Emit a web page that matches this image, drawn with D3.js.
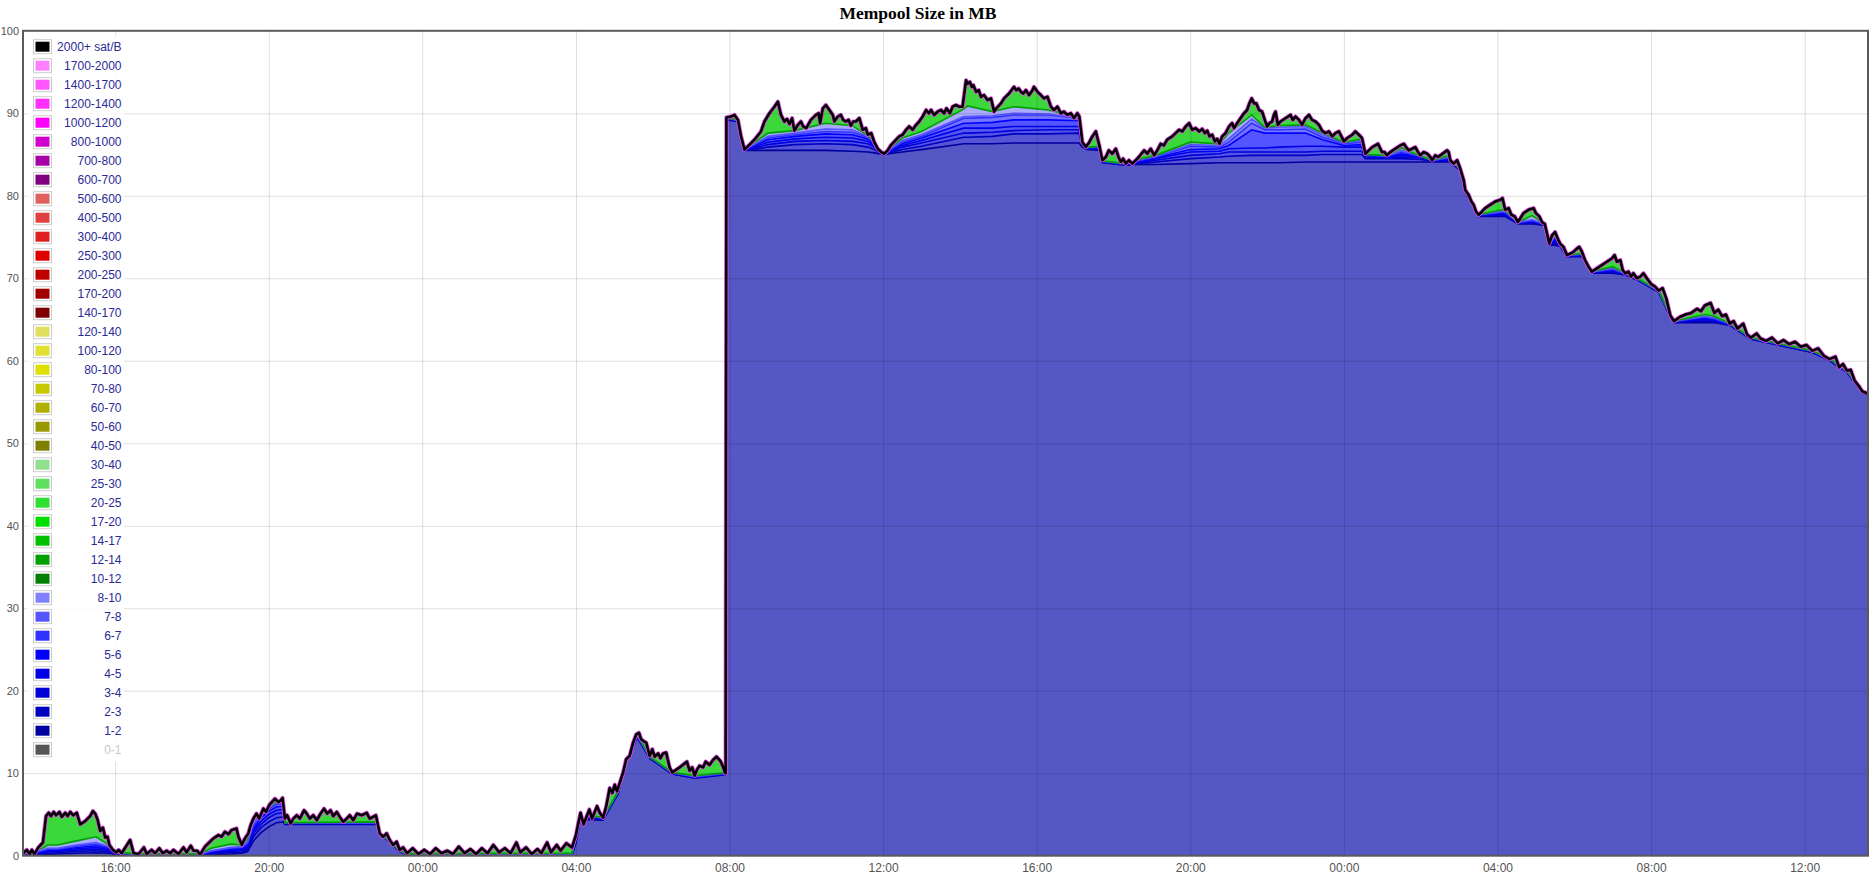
<!DOCTYPE html>
<meta charset="utf-8">
<script src="https://d3js.org/d3.v7.min.js"></script>
<style>
    body { margin: 0; background: #fff; }
    .axis text { font-family: "Liberation Sans", Arial, sans-serif; font-size: 12px; fill: #545454; }
    .axis.y text { font-size: 11px; }
    .legend text { font-family: "Liberation Sans", Arial, sans-serif; font-size: 12px; }
</style>
<div id="chart"></div>
<script>
// fee bands as in the legend, highest first
const feeLabels = ["2000+ sat/B", "1700-2000", "1400-1700", "1200-1400", "1000-1200", "800-1000", "700-800",
    "600-700", "500-600", "400-500", "300-400", "250-300", "200-250", "170-200", "140-170", "120-140", "100-120",
    "80-100", "70-80", "60-70", "50-60", "40-50", "30-40", "25-30", "20-25", "17-20", "14-17", "12-14", "10-12",
    "8-10", "7-8", "6-7", "5-6", "4-5", "3-4", "2-3", "1-2", "0-1"];
const feeColors = ["#000000", "#ff80ff", "#ff55ff", "#ff30ff", "#ff00ff", "#d000d0", "#a800a8",
    "#800080", "#e06060", "#e04040", "#e02020", "#e00000", "#c00000", "#a00000", "#800000", "#e0e060", "#e0e030",
    "#e0e000", "#c8c800", "#b0b000", "#989800", "#808000", "#90e090", "#60e060", "#30e030", "#00e000", "#00c000", "#00a000", "#008000",
    "#8080ff", "#5555ff", "#3030ff", "#0000ff", "#0000e8", "#0000d8", "#0000c0", "#0000a0", "#555555"];
const hiddenLabels = ["0-1"];

const yTicks = [0, 10, 20, 30, 40, 50, 60, 70, 80, 90, 100];

// hours counted from 00:00 of the first day
const startHour = 13.6, endHour = 61.65;

// whole mempool (top of the stack), [hour, MB]
const totalMB = [
    [13.6,0.3],[13.7,0.7],[13.77,0.2],[13.83,0.7],[13.9,0.2],[14.0,1.0],[14.12,1.6],[14.2,4.8],[14.27,5.2],[14.33,4.8],
    [14.4,5.3],[14.46,4.9],[14.55,5.3],[14.61,4.7],[14.7,5.2],[14.76,4.8],[14.83,5.3],[14.91,4.9],[15.0,5.2],[15.09,3.8],
    [15.22,4.2],[15.35,4.8],[15.42,5.4],[15.48,5.1],[15.54,4.4],[15.61,3.0],[15.68,3.4],[15.74,2.2],[15.8,2.3],[15.85,1.3],
    [15.94,0.7],[16.03,0.4],[16.09,0.7],[16.17,0.3],[16.39,1.9],[16.48,0.3],[16.61,0.2],[16.75,1.0],[16.82,0.2],[16.95,0.7],
    [17.04,0.3],[17.15,0.9],[17.24,0.3],[17.34,0.6],[17.43,0.3],[17.52,0.7],[17.65,0.2],[17.78,1.0],[17.86,0.4],[17.97,1.2],
    [18.04,0.6],[18.14,0.6],[18.21,0.1],[18.34,1.1],[18.56,2.1],[18.69,2.5],[18.77,2.3],[18.86,2.9],[18.95,2.6],[19.03,3.1],
    [19.16,3.3],[19.21,2.3],[19.3,1.3],[19.38,2.1],[19.47,2.7],[19.53,3.7],[19.6,4.5],[19.68,5.1],[19.75,4.5],[19.86,5.7],
    [19.93,5.3],[20.01,6.1],[20.08,6.5],[20.16,6.9],[20.25,6.5],[20.31,6.7],[20.36,7.0],[20.42,4.5],[20.48,4.9],[20.57,3.9],
    [20.64,4.5],[20.73,4.9],[20.81,4.5],[20.92,5.5],[20.99,5.1],[21.07,4.5],[21.16,4.9],[21.25,4.3],[21.35,5.1],[21.44,5.7],
    [21.52,5.1],[21.61,5.5],[21.68,4.8],[21.77,5.3],[21.85,4.7],[21.94,4.1],[22.03,4.5],[22.11,4.9],[22.2,4.3],[22.3,5.1],
    [22.42,4.9],[22.55,5.2],[22.63,4.5],[22.79,4.9],[22.89,2.7],[22.98,2.3],[23.07,2.7],[23.15,1.9],[23.24,1.3],[23.33,1.7],
    [23.41,0.7],[23.5,1.0],[23.6,0.3],[23.75,0.9],[23.9,0.2],[24.05,0.7],[24.2,0.2],[24.35,0.9],[24.5,0.3],[24.65,0.6],
    [24.8,0.2],[24.95,1.1],[25.1,0.3],[25.25,0.8],[25.4,0.2],[25.55,0.9],[25.7,0.3],[25.85,1.3],[26.0,0.4],[26.15,0.9],
    [26.3,0.3],[26.45,1.6],[26.55,0.4],[26.7,1.0],[26.85,0.2],[27.0,0.8],[27.1,0.3],[27.25,1.6],[27.35,0.4],[27.5,1.3],
    [27.6,0.6],[27.75,1.5],[27.9,1.0],[28.0,2.5],[28.12,5.2],[28.2,3.8],[28.35,5.6],[28.42,4.5],[28.55,6.0],[28.62,5.2],
    [28.71,4.6],[28.79,6.0],[28.88,8.2],[28.95,7.6],[29.01,8.6],[29.07,7.8],[29.14,8.8],[29.23,10.1],[29.31,11.7],[29.4,12.1],
    [29.49,13.7],[29.57,14.7],[29.64,14.9],[29.7,14.1],[29.76,13.9],[29.83,13.7],[29.92,12.1],[29.99,12.9],[30.05,12.0],[30.14,12.4],
    [30.2,11.8],[30.27,12.4],[30.35,12.5],[30.44,10.7],[30.51,10.1],[30.7,10.7],[30.89,11.4],[30.96,10.3],[31.03,10.7],[31.09,9.7],
    [31.15,10.4],[31.22,10.9],[31.31,10.7],[31.38,11.4],[31.48,11.0],[31.57,11.6],[31.66,12.0],[31.76,11.5],[31.83,10.8],[31.88,10.1],
    [31.9,10.0],[31.92,89.5],[32.04,89.6],[32.13,89.8],[32.22,89.2],[32.3,87.2],[32.39,85.6],[32.48,86.0],[32.65,86.8],[32.82,87.8],
    [32.91,89.0],[33.04,90.0],[33.17,90.8],[33.26,91.4],[33.34,89.8],[33.43,89.0],[33.5,89.3],[33.56,88.7],[33.63,89.4],[33.69,87.9],
    [33.78,88.6],[33.86,89.0],[33.92,88.4],[34.0,88.2],[34.12,89.2],[34.25,89.8],[34.32,90.0],[34.36,88.8],[34.43,90.6],[34.51,91.0],
    [34.6,90.4],[34.69,89.8],[34.73,89.0],[34.82,89.6],[34.9,89.8],[34.96,89.2],[35.03,89.0],[35.1,89.2],[35.16,88.5],[35.22,89.0],
    [35.29,89.0],[35.38,89.4],[35.47,88.0],[35.55,88.2],[35.6,87.4],[35.69,87.6],[35.77,86.5],[35.86,85.7],[35.95,85.3],[36.03,85.1],
    [36.12,85.5],[36.2,86.1],[36.34,86.8],[36.42,87.2],[36.51,87.4],[36.6,88.0],[36.68,88.4],[36.77,88.0],[36.86,88.6],[36.94,89.0],
    [37.03,89.6],[37.12,90.4],[37.19,90.0],[37.25,90.4],[37.33,89.8],[37.42,90.2],[37.51,90.4],[37.59,90.0],[37.65,90.6],[37.74,90.0],
    [37.81,90.8],[37.9,91.0],[37.98,90.8],[38.07,90.8],[38.16,94.0],[38.2,93.6],[38.26,93.8],[38.31,93.2],[38.35,93.4],[38.42,92.6],
    [38.49,92.8],[38.55,92.0],[38.63,92.2],[38.72,91.6],[38.81,91.8],[38.89,90.2],[38.95,90.6],[39.07,91.2],[39.15,91.8],[39.28,92.4],
    [39.41,93.2],[39.47,92.8],[39.53,93.0],[39.59,92.6],[39.65,92.4],[39.72,92.8],[39.8,92.2],[39.89,92.8],[39.93,93.2],[40.02,92.6],
    [40.11,92.2],[40.19,91.8],[40.28,92.0],[40.37,90.8],[40.45,90.4],[40.54,90.8],[40.63,90.0],[40.71,90.2],[40.8,89.8],[40.89,90.0],
    [40.97,89.4],[41.06,90.0],[41.11,89.6],[41.19,86.5],[41.28,85.9],[41.37,86.5],[41.45,87.2],[41.54,87.8],[41.63,86.1],[41.71,84.3],
    [41.8,84.7],[41.88,85.5],[41.97,85.1],[42.06,85.7],[42.13,84.7],[42.19,84.1],[42.25,84.5],[42.32,83.9],[42.4,84.3],[42.49,83.9],
    [42.58,84.3],[42.66,84.7],[42.8,85.5],[42.88,85.1],[42.97,85.7],[43.06,84.9],[43.14,85.5],[43.23,86.3],[43.31,86.1],[43.4,86.8],
    [43.53,87.2],[43.62,87.6],[43.71,88.0],[43.79,87.8],[43.88,88.4],[43.97,88.8],[44.05,88.0],[44.14,88.2],[44.23,87.8],[44.31,88.1],
    [44.38,87.6],[44.44,87.9],[44.5,87.2],[44.57,87.4],[44.64,86.6],[44.7,86.9],[44.76,86.3],[44.83,87.2],[44.92,87.6],[45.01,88.4],
    [45.09,88.8],[45.14,88.2],[45.22,88.8],[45.31,89.4],[45.4,90.0],[45.48,90.4],[45.54,91.2],[45.6,91.8],[45.66,91.2],[45.72,91.2],
    [45.79,90.4],[45.87,90.2],[45.94,89.2],[46.0,88.4],[46.06,88.8],[46.13,89.0],[46.18,89.8],[46.22,90.2],[46.28,88.6],[46.35,89.0],
    [46.48,89.4],[46.61,89.8],[46.67,89.2],[46.74,89.6],[46.83,89.2],[46.91,88.6],[47.0,89.4],[47.09,89.8],[47.17,89.2],[47.26,89.0],
    [47.35,88.6],[47.43,87.9],[47.52,87.6],[47.61,87.8],[47.7,87.2],[47.78,87.6],[47.87,87.8],[48.0,86.6],[48.09,87.0],[48.22,87.4],
    [48.3,87.8],[48.39,87.4],[48.47,87.0],[48.56,85.1],[48.65,85.5],[48.74,85.9],[48.82,86.1],[48.89,86.3],[48.95,85.7],[48.99,85.3],
    [49.06,85.3],[49.12,84.9],[49.21,85.3],[49.34,85.7],[49.47,86.1],[49.56,86.3],[49.62,85.9],[49.69,85.5],[49.78,85.7],[49.86,85.9],
    [49.93,85.3],[49.99,84.9],[50.08,85.3],[50.17,85.1],[50.25,84.7],[50.3,84.3],[50.38,84.9],[50.45,84.7],[50.51,84.9],[50.6,85.2],
    [50.69,85.5],[50.73,85.3],[50.77,84.3],[50.86,83.9],[50.95,84.3],[51.03,83.3],[51.12,81.9],[51.16,80.7],[51.25,80.1],[51.32,79.3],
    [51.38,78.9],[51.44,78.1],[51.51,77.7],[51.6,78.1],[51.68,78.5],[51.81,78.9],[51.94,79.3],[52.07,79.5],[52.13,79.7],[52.2,78.3],
    [52.29,78.5],[52.36,77.7],[52.45,77.5],[52.53,76.8],[52.6,77.3],[52.68,77.9],[52.81,78.3],[52.94,78.5],[53.0,77.9],[53.09,77.5],
    [53.16,76.8],[53.23,76.6],[53.29,75.4],[53.35,74.2],[53.42,75.2],[53.5,75.6],[53.57,74.8],[53.63,74.2],[53.72,73.8],[53.81,72.8],
    [53.9,73.0],[53.98,73.2],[54.07,73.6],[54.13,73.8],[54.2,73.2],[54.28,72.2],[54.37,71.4],[54.46,70.8],[54.59,71.2],[54.72,71.6],
    [54.85,72.0],[54.98,72.4],[55.05,72.8],[55.11,72.0],[55.2,72.2],[55.26,71.0],[55.33,70.6],[55.41,70.8],[55.48,70.2],[55.54,70.6],
    [55.63,70.0],[55.72,70.2],[55.8,70.6],[55.89,70.0],[56.0,69.3],[56.1,69.0],[56.2,68.5],[56.3,68.8],[56.4,67.5],[56.5,65.5],
    [56.6,64.8],[56.75,65.3],[56.9,65.6],[57.05,65.8],[57.2,66.3],[57.3,66.0],[57.4,66.7],[57.55,67.0],[57.65,65.8],[57.75,66.2],
    [57.85,65.4],[57.95,65.6],[58.05,64.5],[58.15,64.8],[58.25,63.9],[58.4,64.5],[58.5,63.2],[58.6,62.8],[58.75,63.3],[58.85,62.7],
    [59.0,62.4],[59.15,62.8],[59.3,62.1],[59.45,62.5],[59.6,62.0],[59.75,62.3],[59.9,61.7],[60.05,61.9],[60.2,61.2],[60.35,61.5],
    [60.5,60.6],[60.65,60.2],[60.8,60.5],[60.9,59.2],[61.0,59.6],[61.1,58.8],[61.2,58.9],[61.3,57.6],[61.4,57.0],[61.5,56.3],
    [61.65,56.0]
];

// tops of the lower bands as read off the stack:
// hour, 1-2, 2-3, 3-4, 4-5, 5-6, 6-7, 7-8, 8-10 sat/B (MB, cumulative)
const bandTops = [
    [13.6, 0.05,0.1,0.15,0.2,0.2,0.25,0.25,0.3],
    [14.1, 0.1,0.2,0.3,0.4,0.5,0.6,0.7,0.9],
    [14.25,0.15,0.3,0.45,0.6,0.7,0.8,0.9,1.3],
    [14.5, 0.2,0.35,0.5,0.6,0.7,0.8,0.9,1.3],
    [15.0, 0.3,0.5,0.7,0.85,1.0,1.15,1.3,1.8],
    [15.5, 0.35,0.6,0.8,1.0,1.2,1.4,1.6,2.3],
    [15.85,0.3,0.45,0.6,0.75,0.9,1.0,1.1,1.25],
    [15.94,0.2,0.3,0.4,0.5,0.55,0.6,0.65,0.7],
    [16.1, 0.1,0.15,0.2,0.25,0.3,0.3,0.35,0.4],
    [16.5, 0.05,0.08,0.1,0.12,0.14,0.16,0.18,0.25],
    [18.2, 0.05,0.08,0.1,0.12,0.14,0.16,0.18,0.2],
    [18.5, 0.1,0.2,0.3,0.4,0.5,0.55,0.6,0.9],
    [19.0, 0.2,0.35,0.5,0.65,0.8,0.9,1.0,1.4],
    [19.3, 0.3,0.45,0.6,0.75,0.9,1.0,1.1,1.3],
    [19.45,0.5,0.7,0.9,1.1,1.3,1.5,1.7,2.0],
    [19.6, 1.8,2.3,2.7,3.0,3.3,3.6,3.9,4.2],
    [19.8, 2.8,3.4,3.8,4.2,4.6,4.9,5.2,5.4],
    [20.0, 3.5,4.1,4.6,5.0,5.4,5.7,5.9,6.0],
    [20.2, 4.0,4.6,5.1,5.5,5.9,6.2,6.4,6.5],
    [20.38,4.1,4.7,5.2,5.6,6.0,6.3,6.5,6.6],
    [20.42,3.8,3.85,3.9,3.9,3.95,3.95,4.0,4.0],
    [22.85,3.8,3.85,3.9,3.9,3.95,3.95,4.0,4.1],
    [22.89,2.5,2.55,2.6,2.6,2.6,2.6,2.6,2.6],
    [23.15,1.7,1.75,1.8,1.8,1.8,1.8,1.8,1.8],
    [23.41,0.5,0.55,0.6,0.6,0.6,0.6,0.6,0.6],
    [23.6, 0.1,0.12,0.15,0.15,0.18,0.2,0.2,0.25],
    [27.9, 0.1,0.12,0.15,0.15,0.18,0.2,0.2,0.3],
    [28.0, 1.5,1.7,1.8,1.9,2.0,2.1,2.2,2.4],
    [28.12,4.4,4.6,4.7,4.8,4.9,5.0,5.0,5.1],
    [28.71,4.3,4.4,4.45,4.5,4.5,4.55,4.55,4.6],
    [29.1, 7.5,7.6,7.65,7.7,7.7,7.75,7.75,7.8],
    [29.3, 11.3,11.4,11.45,11.5,11.5,11.55,11.55,11.6],
    [29.6, 14.3,14.4,14.45,14.5,14.5,14.55,14.6,14.7],
    [29.92,11.8,11.85,11.9,11.9,11.95,11.95,12.0,12.0],
    [30.5, 9.9,9.95,10.0,10.0,10.05,10.05,10.1,10.1],
    [31.09,9.4,9.45,9.5,9.5,9.55,9.55,9.6,9.7],
    [31.88,9.8,9.85,9.9,9.9,9.95,9.95,10.0,10.05],
    [31.92,89.2,89.3,89.3,89.4,89.4,89.4,89.5,89.5],
    [32.2, 89.0,89.05,89.1,89.1,89.1,89.15,89.15,89.2],
    [32.39,85.5,85.5,85.55,85.55,85.6,85.6,85.6,85.6],
    [33.0, 85.5,85.9,86.2,86.5,86.8,87.0,87.2,87.6],
    [33.7, 85.5,86.2,86.6,86.9,87.2,87.4,87.6,87.9],
    [34.5, 85.5,86.3,86.7,87.1,87.5,87.8,88.1,88.8],
    [35.2, 85.4,86.2,86.6,87.0,87.4,87.7,88.0,88.5],
    [35.6, 85.3,85.9,86.3,86.6,86.9,87.1,87.2,87.3],
    [35.77,85.2,85.6,85.9,86.1,86.3,86.4,86.4,86.5],
    [36.0, 85.0,85.0,85.0,85.05,85.05,85.05,85.1,85.1],
    [36.5, 85.3,85.6,85.9,86.1,86.3,86.5,86.7,87.0],
    [37.0, 85.6,86.0,86.4,86.7,87.0,87.2,87.4,87.8],
    [38.1, 86.3,87.1,87.6,88.2,88.8,89.4,89.6,90.5],
    [38.2, 86.3,87.1,87.6,88.2,88.8,89.4,89.6,90.9],
    [38.85,86.3,87.2,87.7,88.2,88.9,89.5,89.7,90.2],
    [39.4, 86.4,87.5,87.9,88.4,89.2,89.8,90.0,90.8],
    [40.3, 86.4,87.5,88.0,88.4,89.2,89.8,89.9,90.4],
    [41.1, 86.4,87.6,88.0,88.4,89.1,89.4,89.45,89.5],
    [41.19,85.9,86.0,86.1,86.2,86.2,86.3,86.3,86.4],
    [41.3, 85.6,85.7,85.75,85.8,85.8,85.85,85.85,85.9],
    [41.66,85.5,85.6,85.7,85.8,85.9,85.9,86.0,86.0],
    [41.71,84.0,84.05,84.1,84.1,84.15,84.15,84.2,84.2],
    [42.32,83.7,83.75,83.8,83.8,83.85,83.85,83.85,83.9],
    [42.6, 83.8,83.9,84.0,84.1,84.2,84.2,84.3,84.4],
    [43.1, 83.8,84.1,84.3,84.5,84.6,84.7,84.8,84.9],
    [44.0, 83.9,84.5,84.9,85.3,85.6,86.0,86.2,86.5],
    [44.76,84.0,84.7,85.1,85.4,85.7,85.9,86.1,86.3],
    [45.0, 84.0,84.8,85.3,85.7,86.1,86.5,86.9,87.6],
    [45.6, 84.0,84.9,85.3,85.8,88.0,88.8,89.3,89.8],
    [45.94,84.0,84.9,85.3,85.8,87.6,88.0,88.2,88.3],
    [46.3, 84.0,84.9,85.3,85.9,87.6,88.0,88.3,88.5],
    [47.0, 84.1,84.9,85.3,86.0,87.6,88.1,88.4,88.6],
    [47.45,84.1,85.0,85.4,86.0,86.8,87.1,87.4,87.6],
    [48.0, 84.1,85.0,85.4,85.9,86.1,86.3,86.4,86.5],
    [48.47,84.1,85.0,85.4,85.9,86.2,86.5,86.7,86.9],
    [48.56,84.1,84.5,84.7,84.9,85.0,85.0,85.0,85.0],
    [49.12,84.1,84.5,84.6,84.7,84.75,84.8,84.8,84.9],
    [49.5, 84.1,84.5,84.7,84.9,85.1,85.3,85.5,85.8],
    [50.0, 84.1,84.4,84.6,84.7,84.75,84.8,84.8,84.8],
    [50.3, 84.1,84.2,84.25,84.25,84.3,84.3,84.3,84.3],
    [50.75,84.1,84.2,84.3,84.4,84.5,84.6,84.7,84.9],
    [50.86,83.7,83.75,83.8,83.8,83.85,83.85,83.9,83.9],
    [51.03,83.1,83.15,83.2,83.2,83.25,83.25,83.3,83.3],
    [51.16,80.5,80.55,80.6,80.6,80.65,80.65,80.7,80.7],
    [51.32,79.1,79.15,79.2,79.2,79.25,79.25,79.3,79.3],
    [51.51,77.5,77.55,77.6,77.6,77.65,77.65,77.7,77.7],
    [52.1, 77.5,77.6,77.7,77.8,77.9,78.0,78.1,78.3],
    [52.2, 77.5,77.6,77.7,77.8,77.9,78.0,78.1,78.2],
    [52.53,76.6,76.65,76.7,76.7,76.75,76.75,76.8,76.8],
    [52.9, 76.6,76.7,76.8,76.9,77.0,77.0,77.1,77.6],
    [53.23,76.4,76.45,76.5,76.5,76.55,76.55,76.6,76.6],
    [53.35,74.0,74.05,74.1,74.1,74.15,74.15,74.2,74.2],
    [53.5, 74.0,74.2,74.4,74.6,74.8,75.0,75.1,75.3],
    [53.63,73.9,73.95,74.0,74.0,74.05,74.05,74.1,74.2],
    [53.81,72.6,72.65,72.7,72.7,72.75,72.75,72.8,72.8],
    [54.2, 72.6,72.7,72.75,72.8,72.85,72.9,72.95,73.0],
    [54.46,70.6,70.65,70.7,70.7,70.75,70.75,70.8,70.8],
    [55.0, 70.6,70.7,70.8,70.9,71.0,71.1,71.2,71.4],
    [55.33,70.4,70.45,70.5,70.5,70.55,70.55,70.6,70.6],
    [55.63,69.8,69.85,69.9,69.9,69.95,69.95,70.0,70.0],
    [56.2, 68.3,68.35,68.4,68.4,68.45,68.45,68.5,68.5],
    [56.5, 65.3,65.35,65.4,65.4,65.45,65.45,65.5,65.5],
    [56.6, 64.6,64.65,64.7,64.7,64.75,64.75,64.8,64.8],
    [57.4, 64.6,64.8,65.0,65.1,65.2,65.3,65.4,65.6],
    [57.65,64.6,64.7,64.8,64.9,65.0,65.1,65.2,65.4],
    [58.05,64.3,64.35,64.4,64.4,64.45,64.45,64.5,64.5],
    [58.6, 62.6,62.65,62.7,62.7,62.75,62.75,62.8,62.8],
    [59.3, 61.9,61.95,62.0,62.0,62.05,62.05,62.1,62.1],
    [60.2, 61.0,61.05,61.1,61.1,61.15,61.15,61.2,61.2],
    [60.65,60.0,60.05,60.1,60.1,60.15,60.15,60.2,60.2],
    [61.1, 58.6,58.65,58.7,58.7,58.75,58.75,58.8,58.8],
    [61.5, 56.1,56.15,56.2,56.2,56.25,56.25,56.3,56.3],
    [61.65,55.8,55.85,55.9,55.9,55.95,55.95,56.0,56.0]
];

// fills are the band colours at about 2/3 opacity over white
const bandFills = ["#5557c5", "#5555d5", "#5555e5", "#5555f0", "#5555ff", "#7575ff", "#8e8eff", "#aaaaff"];
const bandLines = ["#0000a0", "#0000c0", "#0000d8", "#0000e8", "#0000ff", "#3030ff", "#5555ff", "#00a000"];
const greenFill = "#3ad83a";

const width = 1874, height = 876;
const plot = {left: 23, right: 1868, top: 30.8, bottom: 855.7};

const day0 = new Date(2021, 0, 18);
const toDate = function (h) { return new Date(day0.getTime() + h * 3600000); };

const x = d3.scaleTime()
    .domain([toDate(startHour), toDate(endHour)])
    .range([plot.left, plot.right]);
const y = d3.scaleLinear()
    .domain([0, 100])
    .range([plot.bottom, plot.top]);

const svg = d3.select("#chart")
    .append("svg")
    .attr("width", width)
    .attr("height", height);

svg.append("text")
    .attr("x", 918)
    .attr("y", 19)
    .attr("text-anchor", "middle")
    .style("font-family", '"Liberation Serif", "Times New Roman", serif')
    .style("font-weight", "bold")
    .style("font-size", "17.5px")
    .text("Mempool Size in MB");

let defs = svg.append("defs");
defs.append("clipPath").attr("id", "plotClip")
    .append("rect")
    .attr("x", plot.left).attr("y", plot.top)
    .attr("width", plot.right - plot.left).attr("height", plot.bottom - plot.top);

let totalArea = d3.area()
    .x(d => x(toDate(d[0])))
    .y0(y(0))
    .y1(d => y(d[1]));

defs.append("clipPath").attr("id", "underTotal")
    .append("path")
    .attr("d", totalArea(totalMB));

let chart = svg.append("g").attr("clip-path", "url(#plotClip)");

// green part of the stack (10 sat/B and up) is what shows above the blue bands
chart.append("path")
    .attr("d", totalArea(totalMB))
    .attr("fill", greenFill);

let bands = chart.append("g").attr("clip-path", "url(#underTotal)");
for (let k = 8; k >= 1; k--) {
    let a = d3.area()
        .x(d => x(toDate(d[0])))
        .y0(y(0))
        .y1(d => y(d[k]));
    bands.append("path")
        .attr("d", a(bandTops))
        .attr("fill", bandFills[k - 1]);
}

// grid
let gridX = svg.append("g")
    .attr("transform", "translate(0," + plot.bottom + ")")
    .call(d3.axisBottom(x).ticks(d3.timeHour.every(4)).tickSize(-(plot.bottom - plot.top)).tickFormat(""));
gridX.select(".domain").remove();
gridX.selectAll("line").attr("stroke", "rgba(0,0,0,0.13)");

let gridY = svg.append("g")
    .attr("transform", "translate(" + plot.left + ",0)")
    .call(d3.axisLeft(y).tickValues(yTicks.slice(1, -1)).tickSize(-(plot.right - plot.left)).tickFormat(""));
gridY.select(".domain").remove();
gridY.selectAll("line").attr("stroke", "rgba(0,0,0,0.13)");

// band lines
let lines = chart.append("g").attr("clip-path", "url(#underTotal)");
for (let k = 1; k <= 8; k++) {
    let l = d3.line()
        .x(d => x(toDate(d[0])))
        .y(d => y(d[k]));
    lines.append("path")
        .attr("d", l(bandTops))
        .attr("fill", "none")
        .attr("stroke", bandLines[k - 1])
        .attr("stroke-width", 1.6);
}

let topLine = d3.line()
    .x(d => x(toDate(d[0])))
    .y(d => y(d[1]));

chart.append("path")
    .attr("d", topLine(totalMB))
    .attr("fill", "none")
    .attr("stroke", "#e050e0")
    .attr("stroke-width", 4.2)
    .attr("stroke-linejoin", "round");

chart.append("path")
    .attr("d", topLine(totalMB))
    .attr("fill", "none")
    .attr("stroke", "#000")
    .attr("stroke-width", 2.6)
    .attr("stroke-linejoin", "round");

// plot border
svg.append("rect")
    .attr("x", plot.left).attr("y", plot.top)
    .attr("width", plot.right - plot.left).attr("height", plot.bottom - plot.top)
    .attr("fill", "none")
    .attr("stroke", "#5a5a5a")
    .attr("stroke-width", 2);

// axes labels
let xAxis = svg.append("g")
    .attr("class", "axis")
    .attr("transform", "translate(0," + plot.bottom + ")")
    .call(d3.axisBottom(x).ticks(d3.timeHour.every(4)).tickFormat(d3.timeFormat("%H:%M")).tickSize(0).tickPadding(8));
xAxis.select(".domain").remove();

let yAxis = svg.append("g")
    .attr("class", "axis y")
    .attr("transform", "translate(" + plot.left + ",0)")
    .call(d3.axisLeft(y).tickValues(yTicks).tickSize(0).tickPadding(4));
yAxis.select(".domain").remove();

// legend
let legend = svg.append("g").attr("class", "legend");
legend.append("rect")
    .attr("x", 27).attr("y", 36)
    .attr("width", 97).attr("height", feeLabels.length * 19 + 4)
    .attr("fill", "#fff")
    .attr("opacity", 0.85);

let rows = legend.selectAll("g.row")
    .data(feeLabels)
    .enter()
    .append("g")
    .attr("class", "row")
    .attr("transform", (d, i) => "translate(0," + (46.7 + i * 19) + ")");

rows.append("rect")
    .attr("x", 33.5).attr("y", -7)
    .attr("width", 18).attr("height", 14)
    .attr("fill", "#fff")
    .attr("stroke", "#ccc")
    .attr("stroke-width", 1);

rows.append("rect")
    .attr("x", 35.5).attr("y", -5)
    .attr("width", 14).attr("height", 10)
    .attr("fill", (d, i) => feeColors[i]);

rows.append("text")
    .attr("x", 121.5)
    .attr("dy", "0.35em")
    .attr("text-anchor", "end")
    .attr("fill", d => hiddenLabels.includes(d) ? "#c8c8c8" : "#2a2a96")
    .text(d => d);
</script>
